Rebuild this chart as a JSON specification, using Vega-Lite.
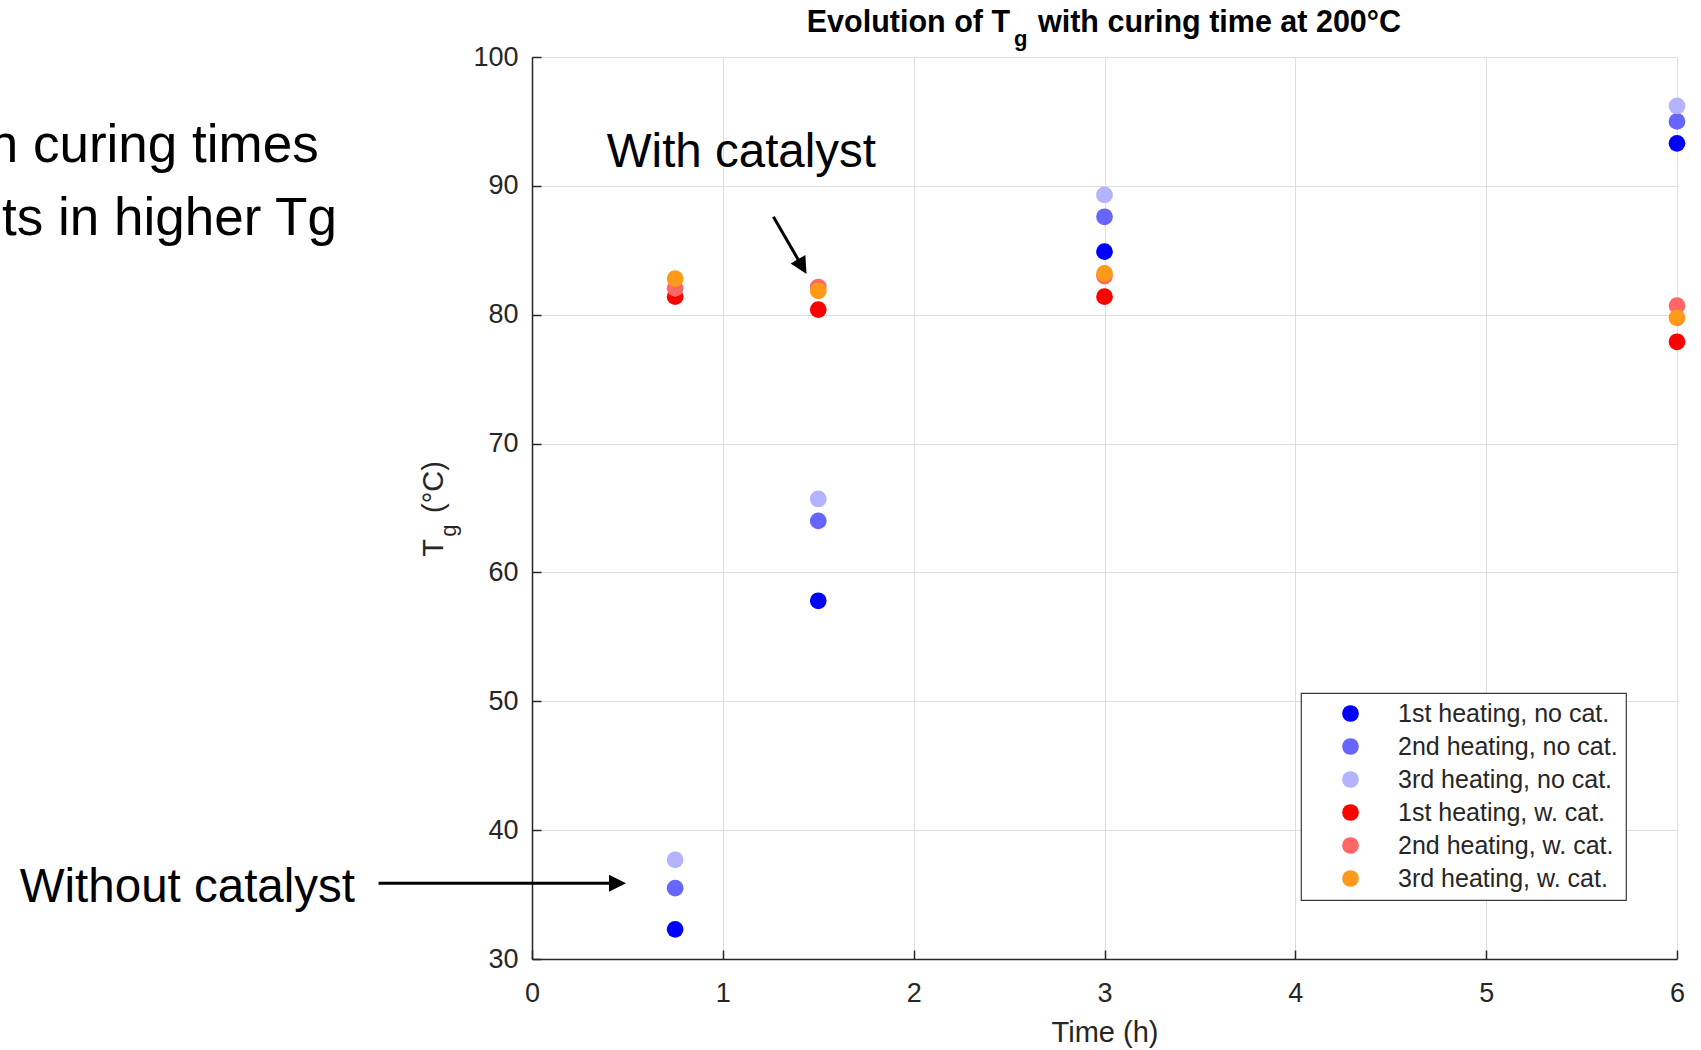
{
  "$schema": "https://vega.github.io/schema/vega-lite/v6.json",
  "autosize": "none",
  "width": 1145,
  "height": 902,
  "padding": {"left": 532, "top": 57, "right": 24, "bottom": 91},
  "background": "white",
  "datasets": {
    "tg": [
      {"time": 0.75, "tg": 32.3, "series": "1st heating, no cat."},
      {"time": 1.5, "tg": 57.8, "series": "1st heating, no cat."},
      {"time": 3, "tg": 84.9, "series": "1st heating, no cat."},
      {"time": 6, "tg": 93.3, "series": "1st heating, no cat."},
      {"time": 0.75, "tg": 35.5, "series": "2nd heating, no cat."},
      {"time": 1.5, "tg": 64.0, "series": "2nd heating, no cat."},
      {"time": 3, "tg": 87.6, "series": "2nd heating, no cat."},
      {"time": 6, "tg": 95.0, "series": "2nd heating, no cat."},
      {"time": 0.75, "tg": 37.7, "series": "3rd heating, no cat."},
      {"time": 1.5, "tg": 65.7, "series": "3rd heating, no cat."},
      {"time": 3, "tg": 89.3, "series": "3rd heating, no cat."},
      {"time": 6, "tg": 96.2, "series": "3rd heating, no cat."},
      {"time": 0.75, "tg": 81.4, "series": "1st heating, w. cat."},
      {"time": 1.5, "tg": 80.4, "series": "1st heating, w. cat."},
      {"time": 3, "tg": 81.4, "series": "1st heating, w. cat."},
      {"time": 6, "tg": 77.9, "series": "1st heating, w. cat."},
      {"time": 0.75, "tg": 82.05, "series": "2nd heating, w. cat."},
      {"time": 1.5, "tg": 82.15, "series": "2nd heating, w. cat."},
      {"time": 3, "tg": 83.0, "series": "2nd heating, w. cat."},
      {"time": 6, "tg": 80.7, "series": "2nd heating, w. cat."},
      {"time": 0.75, "tg": 82.8, "series": "3rd heating, w. cat."},
      {"time": 1.5, "tg": 81.85, "series": "3rd heating, w. cat."},
      {"time": 3, "tg": 83.2, "series": "3rd heating, w. cat."},
      {"time": 6, "tg": 79.75, "series": "3rd heating, w. cat."}
    ],
    "arrows": [
      {"name": "without", "x": -0.8039, "y": 35.88, "x2": 0.4391, "y2": 35.88},
      {"name": "with", "x": 1.265, "y": 87.607, "x2": 1.4117, "y2": 83.843}
    ],
    "sidenote": [
      {"x": -1.118, "y": 91.88, "text": "An increase in curing times"},
      {"x": -1.022, "y": 86.19, "text": "results in higher Tg"}
    ],
    "notes": [
      {"x": 1.8026, "y": 91.49, "text": "With catalyst"},
      {"x": -0.9275, "y": 34.45, "text": "Without catalyst"}
    ],
    "ytitle": [
      {"x": -0.4648, "y": 61.22, "text": "T"},
      {"x": -0.4648, "y": 64.61, "text": "(°C)"}
    ],
    "ytitlesub": [
      {"x": -0.396, "y": 62.77, "text": "g"}
    ],
    "titleA": [{"x": 2.505, "y": 101.96, "text": "Evolution of T"}],
    "titleSub": [{"x": 2.526, "y": 100.85, "text": "g"}],
    "titleC": [{"x": 2.6516, "y": 101.96, "text": "with curing time at 200°C"}]
  },
  "layer": [
    {
      "data": {"name": "tg"},
      "mark": {"type": "point", "filled": true, "opacity": 1, "size": 280, "shape": "circle", "strokeWidth": 0},
      "encoding": {
        "x": {"field": "time", "type": "quantitative", "title": "Time (h)", "scale": {"domain": [0, 6], "nice": false, "zero": false},
              "axis": {"values": [0, 1, 2, 3, 4, 5, 6], "format": "d", "labelFlush": false}},
        "y": {"field": "tg", "type": "quantitative", "title": null, "scale": {"domain": [30, 100], "nice": false, "zero": false},
              "axis": {"values": [30, 40, 50, 60, 70, 80, 90, 100], "format": "d", "labelFlush": false}},
        "color": {"field": "series", "type": "nominal",
                  "scale": {"domain": ["1st heating, no cat.", "2nd heating, no cat.", "3rd heating, no cat.", "1st heating, w. cat.", "2nd heating, w. cat.", "3rd heating, w. cat."],
                            "range": ["#0000ff", "#6666ff", "#b3b3ff", "#ff0000", "#ff6666", "#ff991a"]},
                  "legend": {"title": null}}
      }
    },
    {
      "data": {"name": "arrows"},
      "mark": {"type": "rule", "color": "black", "strokeWidth": 3},
      "encoding": {
        "x": {"field": "x", "type": "quantitative", "title": "Time (h)", "scale": {"domain": [0, 6], "nice": false, "zero": false}},
        "y": {"field": "y", "type": "quantitative", "title": null, "scale": {"domain": [30, 100], "nice": false, "zero": false}},
        "x2": {"field": "x2"},
        "y2": {"field": "y2"}
      }
    },
    {
      "data": {"name": "arrows"},
      "transform": [{"filter": "datum.name === 'without'"}],
      "mark": {"type": "point", "filled": true, "opacity": 1, "color": "black", "strokeWidth": 0, "size": 1156, "angle": 0,
               "shape": "M 0.6 0 L -0.4 -0.5 L -0.4 0.5 Z"},
      "encoding": {
        "x": {"field": "x2", "type": "quantitative", "title": "Time (h)", "scale": {"domain": [0, 6], "nice": false, "zero": false}},
        "y": {"field": "y2", "type": "quantitative", "title": null, "scale": {"domain": [30, 100], "nice": false, "zero": false}}
      }
    },
    {
      "data": {"name": "arrows"},
      "transform": [{"filter": "datum.name === 'with'"}],
      "mark": {"type": "point", "filled": true, "opacity": 1, "color": "black", "strokeWidth": 0, "size": 1156, "angle": 60,
               "shape": "M 0.6 0 L -0.4 -0.5 L -0.4 0.5 Z"},
      "encoding": {
        "x": {"field": "x2", "type": "quantitative", "title": "Time (h)", "scale": {"domain": [0, 6], "nice": false, "zero": false}},
        "y": {"field": "y2", "type": "quantitative", "title": null, "scale": {"domain": [30, 100], "nice": false, "zero": false}}
      }
    },
    {
      "data": {"name": "sidenote"},
      "mark": {"type": "text", "align": "right", "baseline": "alphabetic", "font": "Liberation Sans", "fontSize": 53, "color": "black"},
      "encoding": {
        "x": {"field": "x", "type": "quantitative", "title": "Time (h)", "scale": {"domain": [0, 6], "nice": false, "zero": false}},
        "y": {"field": "y", "type": "quantitative", "title": null, "scale": {"domain": [30, 100], "nice": false, "zero": false}},
        "text": {"field": "text"}
      }
    },
    {
      "data": {"name": "notes"},
      "mark": {"type": "text", "align": "right", "baseline": "alphabetic", "font": "Liberation Sans", "fontSize": 47.5, "color": "black"},
      "encoding": {
        "x": {"field": "x", "type": "quantitative", "title": "Time (h)", "scale": {"domain": [0, 6], "nice": false, "zero": false}},
        "y": {"field": "y", "type": "quantitative", "title": null, "scale": {"domain": [30, 100], "nice": false, "zero": false}},
        "text": {"field": "text"}
      }
    },
    {
      "data": {"name": "ytitle"},
      "mark": {"type": "text", "align": "left", "baseline": "alphabetic", "angle": 270, "font": "Liberation Sans", "fontSize": 29, "color": "#262626"},
      "encoding": {
        "x": {"field": "x", "type": "quantitative", "title": "Time (h)", "scale": {"domain": [0, 6], "nice": false, "zero": false}},
        "y": {"field": "y", "type": "quantitative", "title": null, "scale": {"domain": [30, 100], "nice": false, "zero": false}},
        "text": {"field": "text"}
      }
    },
    {
      "data": {"name": "ytitlesub"},
      "mark": {"type": "text", "align": "left", "baseline": "alphabetic", "angle": 270, "font": "Liberation Sans", "fontSize": 22, "color": "#262626"},
      "encoding": {
        "x": {"field": "x", "type": "quantitative", "title": "Time (h)", "scale": {"domain": [0, 6], "nice": false, "zero": false}},
        "y": {"field": "y", "type": "quantitative", "title": null, "scale": {"domain": [30, 100], "nice": false, "zero": false}},
        "text": {"field": "text"}
      }
    },
    {
      "data": {"name": "titleA"},
      "mark": {"type": "text", "align": "right", "baseline": "alphabetic", "font": "Liberation Sans", "fontSize": 30.5, "fontWeight": "bold", "color": "black"},
      "encoding": {
        "x": {"field": "x", "type": "quantitative", "title": "Time (h)", "scale": {"domain": [0, 6], "nice": false, "zero": false}},
        "y": {"field": "y", "type": "quantitative", "title": null, "scale": {"domain": [30, 100], "nice": false, "zero": false}},
        "text": {"field": "text"}
      }
    },
    {
      "data": {"name": "titleSub"},
      "mark": {"type": "text", "align": "left", "baseline": "alphabetic", "font": "Liberation Sans", "fontSize": 22, "fontWeight": "bold", "color": "black"},
      "encoding": {
        "x": {"field": "x", "type": "quantitative", "title": "Time (h)", "scale": {"domain": [0, 6], "nice": false, "zero": false}},
        "y": {"field": "y", "type": "quantitative", "title": null, "scale": {"domain": [30, 100], "nice": false, "zero": false}},
        "text": {"field": "text"}
      }
    },
    {
      "data": {"name": "titleC"},
      "mark": {"type": "text", "align": "left", "baseline": "alphabetic", "font": "Liberation Sans", "fontSize": 30.5, "fontWeight": "bold", "color": "black"},
      "encoding": {
        "x": {"field": "x", "type": "quantitative", "title": "Time (h)", "scale": {"domain": [0, 6], "nice": false, "zero": false}},
        "y": {"field": "y", "type": "quantitative", "title": null, "scale": {"domain": [30, 100], "nice": false, "zero": false}},
        "text": {"field": "text"}
      }
    }
  ],
  "config": {
    "view": {"stroke": null},
    "font": "Liberation Sans",
    "axis": {
      "grid": true, "gridColor": "#dfdfdf", "gridWidth": 1,
      "domainColor": "#262626", "domainWidth": 1.5,
      "tickColor": "#262626", "tickWidth": 1.5, "tickSize": -9,
      "labelFont": "Liberation Sans", "labelFontSize": 27, "labelColor": "#262626",
      "titleFont": "Liberation Sans", "titleFontSize": 29, "titleColor": "#262626", "titleFontWeight": "normal"
    },
    "axisX": {"labelPadding": 30, "titlePadding": 12},
    "axisY": {"labelPadding": 23},
    "legend": {
      "orient": "none", "legendX": 769, "legendY": 636,
      "fillColor": "white", "strokeColor": "#3a3a3a", "strokeWidth": 1.2,
      "padding": 8, "symbolType": "circle", "symbolSize": 280, "symbolStrokeWidth": 0,
      "symbolOffset": 29, "labelOffset": 35, "labelLimit": 400,
      "labelFont": "Liberation Sans", "labelFontSize": 25, "labelColor": "#262626",
      "rowPadding": 7
    }
  }
}
